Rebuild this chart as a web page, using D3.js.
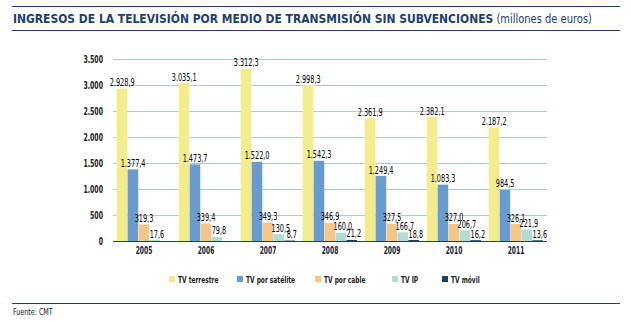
<!DOCTYPE html>
<html>
<head>
<meta charset="utf-8">
<script src="https://cdn.jsdelivr.net/npm/d3@7"></script>
<style>
  body { margin: 0; background: #fff; }
  svg { display: block; font-family: "DejaVu Sans", sans-serif; }
</style>
</head>
<body>
<div id="chart"></div>
<script>
const years = ["2005", "2006", "2007", "2008", "2009", "2010", "2011"];
const seriesNames = ["TV terrestre", "TV por satélite", "TV por cable", "TV IP", "TV móvil"];
const terrestre = [2928.9, 3035.1, 3312.3, 2998.3, 2361.9, 2382.1, 2187.2];
const satelite = [1377.4, 1473.7, 1522.0, 1542.3, 1249.4, 1083.3, 984.5];
const cable = [319.3, 339.4, 349.3, 346.9, 327.5, 327.0, 326.1];
const ip = [17.6, 79.8, 130.5, 160.0, 166.7, 206.7, 221.9];
const movil = [null, null, 8.7, 21.2, 18.8, 16.2, 13.6];
const colors = ["#f2ec8c", "#6a9bcf", "#f4c68a", "#b2dcd3", "#1d3d6e"];
const yTicks = [0, 500, 1000, 1500, 2000, 2500, 3000, 3500];

// squeeze a text to a given width, like the condensed face of the original
function fit(sel, w) {
  sel.each(function() {
    let len = this.getComputedTextLength();
    if (len > w) d3.select(this).attr("textLength", w).attr("lengthAdjust", "spacingAndGlyphs");
  });
}
function condense(sel, f) {
  sel.each(function() {
    let len = this.getComputedTextLength();
    d3.select(this).attr("textLength", len * f).attr("lengthAdjust", "spacingAndGlyphs");
  });
}

function main() {
  let width = 631, height = 322;
  let margin = ({top: 59, right: 84, bottom: 82, left: 113});
  let all = [terrestre, satelite, cable, ip, movil];
  let es = d3.formatLocale({decimal: ",", thousands: ".", grouping: [3], currency: ["", "€"]});
  let fmtVal = es.format(",.1f");
  let fmtTick = es.format(",");

  const svg = d3.select("#chart").append("svg")
    .attr("width", width)
    .attr("height", height);

  // title and rules
  svg.append("line").attr("x1", 12).attr("x2", 620).attr("y1", 6.5).attr("y2", 6.5)
    .attr("stroke", "#22406e").attr("stroke-width", 1.2);
  svg.append("line").attr("x1", 12).attr("x2", 620).attr("y1", 30.5).attr("y2", 30.5)
    .attr("stroke", "#22406e").attr("stroke-width", 1.2);
  let title = svg.append("text").attr("x", 13).attr("y", 23)
    .attr("fill", "#22406e").attr("font-size", 13);
  title.append("tspan").attr("font-weight", "bold")
    .text("INGRESOS DE LA TELEVISIÓN POR MEDIO DE TRANSMISIÓN SIN SUBVENCIONES");
  title.append("tspan").attr("font-size", 12).text(" (millones de euros)");
  title.call(fit, 579);

  let x0 = d3.scaleBand().domain(years)
    .range([margin.left, width - margin.right]).paddingInner(0.12).paddingOuter(0.06);
  let x1 = d3.scaleBand().domain(d3.range(5)).range([0, x0.bandwidth()]);
  let y = d3.scaleLinear().domain([0, 3500]).range([height - margin.bottom + 1, margin.top]);

  // grid
  svg.append("g")
    .selectAll("line")
    .data(yTicks.filter(d => d > 0))
    .join("line")
    .attr("x1", margin.left).attr("x2", width - margin.right)
    .attr("y1", d => Math.round(y(d)) + 0.5).attr("y2", d => Math.round(y(d)) + 0.5)
    .attr("stroke", "#a8d0d0").attr("stroke-width", 1);

  // y labels
  svg.append("g")
    .selectAll("text")
    .data(yTicks)
    .join("text")
    .attr("x", 103).attr("y", d => y(d) + 3.5)
    .attr("text-anchor", "end")
    .attr("font-size", 10).attr("font-weight", "bold").attr("fill", "#222")
    .text(d => fmtTick(d))
    .call(condense, 0.62);

  // bars
  let groups = svg.append("g")
    .selectAll("g")
    .data(years)
    .join("g")
    .attr("transform", d => `translate(${x0(d)},0)`);

  let cells = (yr, i) => all.map((s, k) => ({k: k, v: s[i]})).filter(d => d.v != null);

  groups.selectAll("rect")
    .data(cells)
    .join("rect")
    .attr("x", d => x1(d.k))
    .attr("width", x1.bandwidth() - 0.3)
    .attr("y", d => y(d.v))
    .attr("height", d => y(0) - y(d.v))
    .attr("fill", d => colors[d.k]);

  groups.selectAll("text")
    .data(cells)
    .join("text")
    .attr("x", d => x1(d.k) + x1.bandwidth() / 2 + (d.k >= 3 ? 2 : 0))
    .attr("y", d => y(d.v) - 2.5)
    .attr("text-anchor", "middle")
    .attr("font-size", 10.5).attr("fill", "#000")
    .text(d => fmtVal(d.v))
    .call(condense, 0.62);

  // baseline
  svg.append("line")
    .attr("x1", margin.left).attr("x2", width - margin.right)
    .attr("y1", y(0) + 0.5).attr("y2", y(0) + 0.5)
    .attr("stroke", "#1d3d6e").attr("stroke-width", 1.2);

  // year labels
  svg.append("g")
    .selectAll("text")
    .data(years)
    .join("text")
    .attr("x", d => x0(d) + x0.bandwidth() / 2)
    .attr("y", 254)
    .attr("text-anchor", "middle")
    .attr("font-size", 10).attr("font-weight", "bold").attr("fill", "#222")
    .text(d => d)
    .call(condense, 0.6);

  // legend
  let legX = [169, 237, 315, 392, 442];
  let leg = svg.append("g")
    .selectAll("g")
    .data(seriesNames)
    .join("g")
    .attr("transform", (d, i) => `translate(${legX[i]},276)`);
  leg.append("rect").attr("width", 6).attr("height", 6).attr("fill", (d, i) => colors[i]);
  leg.append("text").attr("x", 9).attr("y", 6.5)
    .attr("font-size", 9.5).attr("font-weight", "bold").attr("fill", "#222").text(d => d)
    .call(condense, 0.62);

  svg.append("line").attr("x1", 12).attr("x2", 620).attr("y1", 303.5).attr("y2", 303.5)
    .attr("stroke", "#22406e").attr("stroke-width", 1);
  svg.append("text").attr("x", 13).attr("y", 315)
    .attr("font-size", 8.5).attr("fill", "#222").text("Fuente: CMT")
    .call(condense, 0.75);
}
main();
</script>
</body>
</html>
